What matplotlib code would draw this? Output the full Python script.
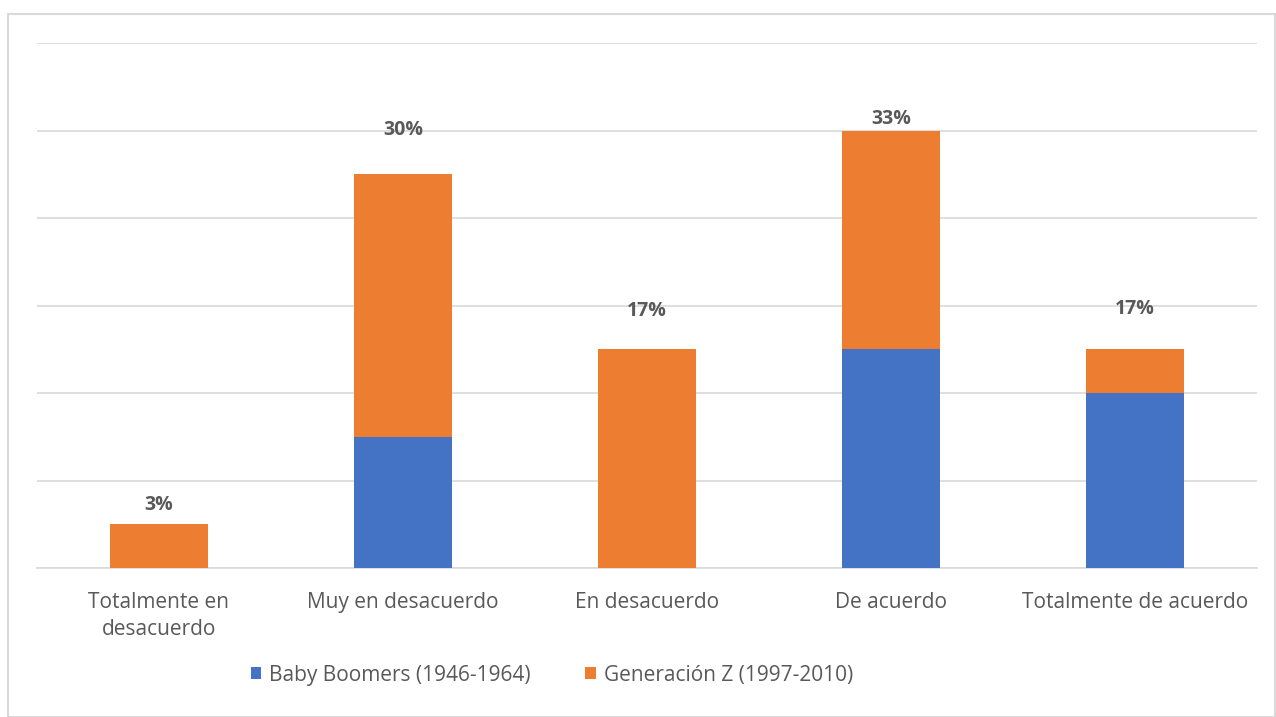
import matplotlib.pyplot as plt
import numpy as np
from matplotlib.patches import Rectangle

categories = ["Totalmente en\ndesacuerdo", "Muy en desacuerdo", "En desacuerdo",
              "De acuerdo", "Totalmente de acuerdo"]
boomers = [0, 3, 0, 5, 4]
gen_z = [1, 6, 5, 5, 1]
series_names = ["Baby Boomers (1946-1964)", "Generación Z (1997-2010)"]
pct_labels = ["3%", "30%", "17%", "33%", "17%"]

BLUE = "#4472C4"
ORANGE = "#ED7D31"
TEXT = "#595959"
GRID = "#D9D9D9"
label_offsets = [19, 44, 38, 12, 40]  # pixels above bar top

plt.rcParams["font.family"] = ["Open Sans", "DejaVu Sans"]

fig = plt.figure(figsize=(12.76, 7.17), dpi=100)
ax = fig.add_axes([37 / 1276, 1 - 568 / 717, 1220 / 1276, 525 / 717])

x = np.arange(len(categories))
width = 0.4
ax.bar(x, boomers, width, color=BLUE, label=series_names[0], zorder=3)
ax.bar(x, gen_z, width, bottom=boomers, color=ORANGE, label=series_names[1], zorder=3)

totals = np.array(boomers) + np.array(gen_z)
for xi, tot, lab, off in zip(x, totals, pct_labels, label_offsets):
    ax.annotate(lab, (xi, tot), xytext=(0, off), textcoords="offset pixels",
                ha="center", va="center", fontsize=14, fontweight="bold", color=TEXT)

ax.set_xlim(-0.5, len(categories) - 0.5)
ax.set_ylim(0, 12)
ax.set_yticks(np.arange(0, 13, 2))
ax.yaxis.grid(True, color=GRID, linewidth=1.2, zorder=0)
ax.set_yticklabels([])
ax.tick_params(axis="y", length=0)
ax.tick_params(axis="x", length=0, pad=17)
ax.set_xticks(x)
ax.set_xticklabels(categories, fontsize=15, color=TEXT, linespacing=1.4)
for s in ["top", "right", "left"]:
    ax.spines[s].set_visible(False)
ax.spines["bottom"].set_color(GRID)
ax.spines["bottom"].set_linewidth(1.2)

leg = fig.legend(loc="center", bbox_to_anchor=(552 / 1276, 1 - 675 / 717), ncol=2,
                 frameon=False, fontsize=15, handlelength=0.5, handleheight=0.5,
                 handletextpad=0.4, columnspacing=2.6)
for t in leg.get_texts():
    t.set_color(TEXT)

fig.patches.append(Rectangle((8 / 1276, 0), 1 - 8 / 1276 - 0.001, 1 - 14 / 717,
                             transform=fig.transFigure, fill=False,
                             edgecolor="#D9D9D9", linewidth=1.5))

fig.savefig("out.png", dpi=100)
